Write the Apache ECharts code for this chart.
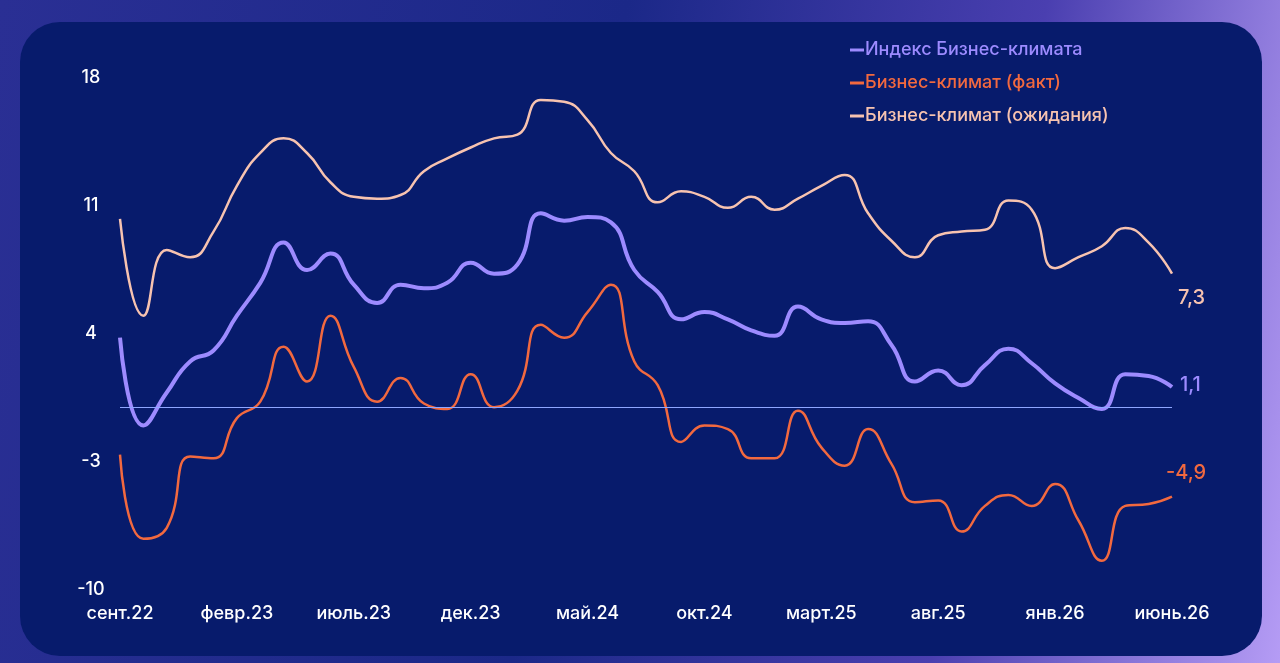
<!DOCTYPE html>
<html>
<head>
    <meta charset="utf-8">
    <title>Индекс Бизнес-климата</title>
    <script src="https://cdn.jsdelivr.net/npm/echarts@6/dist/echarts.min.js"></script>
    <style type="text/css">
        * {
            margin: 0;
            padding: 0;
        }

        body {
            width: 1280px;
            height: 663px;
            overflow: hidden;
            background: linear-gradient(100deg, #2a2f94 0%, #1b2888 45%, #4a3fb0 75%, #b59cf5 100%);
        }

        .panel {
            position: absolute;
            left: 20px;
            top: 22px;
            width: 1242px;
            height: 634px;
            border-radius: 40px;
            background: #071b6c;
        }

        #main {
            position: absolute;
            left: 0;
            top: 0;
            width: 1280px;
            height: 663px;
        }
    </style>
</head>
<body>
<div class="panel"></div>
<div id="main"></div>
<script type="text/javascript">
    var months = ['сент.22', 'окт.22', 'нояб.22', 'дек.22', 'янв.23', 'февр.23', 'март.23', 'апр.23', 'май.23', 'июнь.23',
        'июль.23', 'авг.23', 'сент.23', 'окт.23', 'нояб.23', 'дек.23', 'янв.24', 'февр.24', 'март.24', 'апр.24',
        'май.24', 'июнь.24', 'июль.24', 'авг.24', 'сент.24', 'окт.24', 'нояб.24', 'дек.24', 'янв.25', 'февр.25',
        'март.25', 'апр.25', 'май.25', 'июнь.25', 'июль.25', 'авг.25', 'сент.25', 'окт.25', 'нояб.25', 'дек.25',
        'янв.26', 'февр.26', 'март.26', 'апр.26', 'май.26', 'июнь.26'];

    var seriesNames = ['Индекс Бизнес-климата', 'Бизнес-климат (факт)', 'Бизнес-климат (ожидания)'];

    // индекс
    var indexData = [3.8, -1.0, 0.8, 2.5, 3.1, 5.0, 6.8, 9.0, 7.5, 8.4,
        6.7, 5.7, 6.7, 6.5, 6.8, 7.9, 7.3, 7.8, 10.6, 10.2,
        10.4, 10.1, 7.5, 6.3, 4.8, 5.2, 4.8, 4.2, 3.9, 5.5,
        4.8, 4.6, 4.7, 3.4, 1.4, 2.0, 1.2, 2.3, 3.2, 2.4,
        1.3, 0.5, -0.1, 1.8, 1.7, 1.1];
    // факт
    var factData = [-2.6, -7.2, -6.6, -2.7, -2.8, -0.6, 0.3, 3.3, 1.4, 5.0,
        2.2, 0.3, 1.6, 0.2, -0.1, 1.8, 0.0, 0.9, 4.5, 3.8,
        5.2, 6.7, 2.5, 1.2, -1.9, -1.0, -1.2, -2.8, -2.8, -0.2,
        -2.2, -3.2, -1.2, -3.1, -5.2, -5.1, -6.8, -5.4, -4.8, -5.4,
        -4.2, -6.2, -8.4, -5.4, -5.3, -4.9];
    // ожидания
    var expectData = [10.3, 5.0, 8.6, 8.2, 9.6, 12.1, 13.9, 14.7, 13.9, 12.3,
        11.5, 11.4, 11.6, 12.9, 13.6, 14.2, 14.7, 14.9, 16.8, 16.7,
        15.7, 13.9, 12.9, 11.2, 11.8, 11.5, 10.9, 11.5, 10.8, 11.4,
        12.1, 12.7, 10.6, 9.1, 8.2, 9.4, 9.6, 9.7, 11.3, 10.8,
        7.6, 8.2, 8.8, 9.8, 9.0, 7.3];

    var yTicks = [-10, -3, 4, 11, 18];

    var colorL = ['#9d8bff', '#f2693f', '#f7c3b0'];
    var fontName = 'Inter, "Noto Sans", sans-serif';

    function fmt(v) {
        return String(v).replace('.', ',');
    }

    var myChart = echarts.init(document.getElementById('main'), null, {renderer: 'canvas'});

    var option = {
        backgroundColor: 'transparent',
        animation: false,
        textStyle: {
            fontFamily: fontName
        },
        grid: {
            left: 120,
            right: 108,
            top: 78,
            bottom: 73
        },
        legend: {
            orient: 'vertical',
            left: 845,
            top: 36,
            itemGap: 15,
            itemWidth: 14,
            itemHeight: 3,
            icon: 'rect',
            selectedMode: false,
            textStyle: {
                fontSize: 18,
                fontWeight: 500,
                fontFamily: fontName,
                padding: [0, 0, 0, -4]
            },
            data: [
                {name: seriesNames[0], textStyle: {color: colorL[0]}},
                {name: seriesNames[1], textStyle: {color: colorL[1]}},
                {name: seriesNames[2], textStyle: {color: colorL[2]}}
            ]
        },
        xAxis: {
            type: 'category',
            boundaryGap: false,
            data: months,
            axisLine: {show: false},
            axisTick: {show: false},
            splitLine: {show: false},
            axisLabel: {
                interval: 4,
                color: '#ffffff',
                fontSize: 18,
                fontWeight: 500,
                fontFamily: fontName,
                margin: 15
            }
        },
        yAxis: {
            type: 'value',
            min: yTicks[0],
            max: yTicks[yTicks.length - 1],
            interval: 7,
            axisLine: {show: false},
            axisTick: {show: false},
            splitLine: {show: false},
            axisLabel: {
                color: '#ffffff',
                fontSize: 18,
                fontWeight: 500,
                fontFamily: fontName,
                align: 'center',
                margin: 29
            }
        },
        series: [
            {
                name: seriesNames[2],
                type: 'line',
                smooth: 0.5,
                symbol: 'none',
                data: expectData,
                z: 2,
                itemStyle: {color: colorL[2]},
                lineStyle: {color: colorL[2], width: 2.5},
                endLabel: {
                    show: true,
                    formatter: function (p) { return fmt(p.value); },
                    color: colorL[2],
                    fontSize: 20,
                    fontWeight: 500,
                    offset: [-2, 24]
                }
            },
            {
                name: seriesNames[1],
                type: 'line',
                smooth: 0.5,
                symbol: 'none',
                data: factData,
                z: 3,
                itemStyle: {color: colorL[1]},
                lineStyle: {color: colorL[1], width: 2.5},
                endLabel: {
                    show: true,
                    formatter: function (p) { return fmt(p.value); },
                    color: colorL[1],
                    fontSize: 20,
                    fontWeight: 500,
                    offset: [-14, -24]
                },
                markLine: {
                    silent: true,
                    symbol: 'none',
                    label: {show: false},
                    lineStyle: {color: '#8ea6ff', width: 1, type: 'solid'},
                    data: [{yAxis: 0}]
                }
            },
            {
                name: seriesNames[0],
                type: 'line',
                smooth: 0.5,
                symbol: 'none',
                data: indexData,
                z: 4,
                itemStyle: {color: colorL[0]},
                lineStyle: {color: colorL[0], width: 4},
                endLabel: {
                    show: true,
                    formatter: function (p) { return fmt(p.value); },
                    color: colorL[0],
                    fontSize: 20,
                    fontWeight: 500,
                    offset: [0, -2]
                }
            }
        ]
    };

    myChart.setOption(option);
</script>
</body>
</html>
